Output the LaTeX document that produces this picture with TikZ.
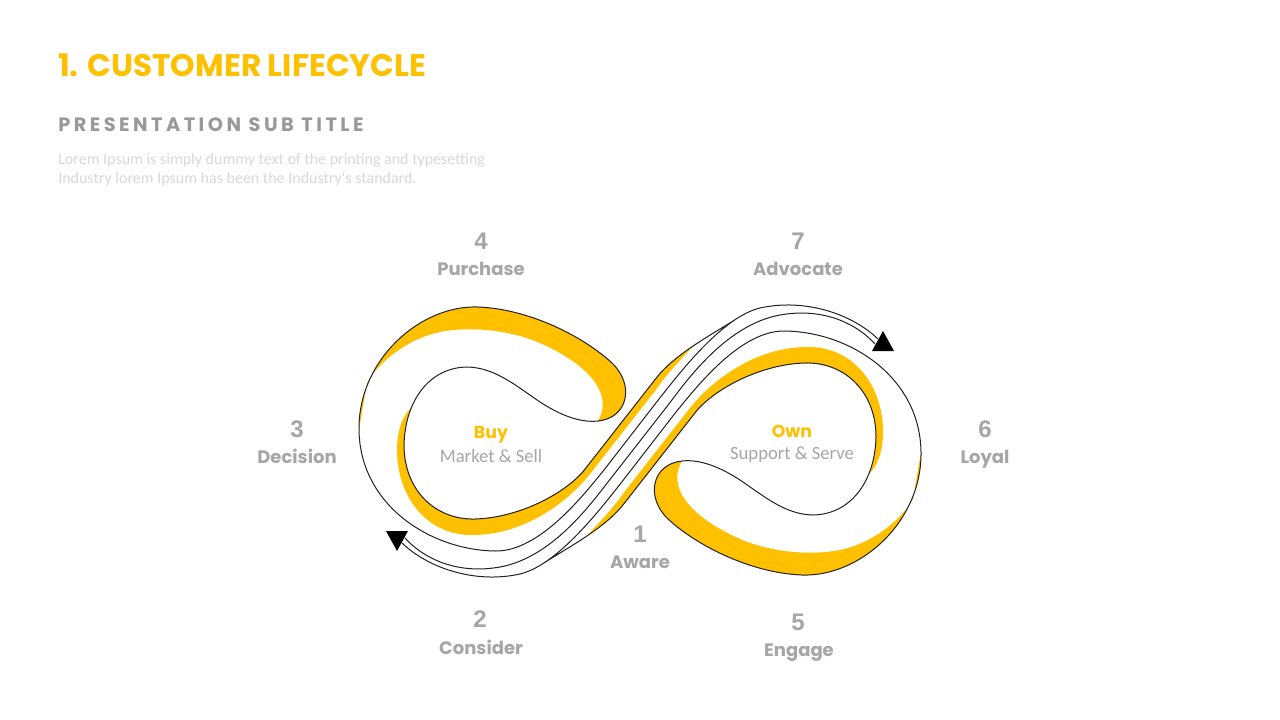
\documentclass[tikz,border=0pt]{standalone}
\usepackage{fontspec}
\setmainfont{Liberation Sans}
\newfontfamily\pop{Poppins}
\newfontfamily\popsp[LetterSpace=18]{Poppins}
\newfontfamily\carl{Carlito}
\newfontfamily\numf{Liberation Sans}
\definecolor{ylw}{HTML}{FFC000}
\definecolor{lbl}{HTML}{A6A6A6}
\definecolor{subg}{HTML}{999999}
\definecolor{lorem}{HTML}{D9D9D9}
\definecolor{ink}{HTML}{222222}
\tikzset{
  inkline/.style={draw=ink, line width=0.75pt, line join=round, line cap=round},
  numlbl/.style={text=lbl, font=\numf\bfseries\fontsize{18}{20}\selectfont, anchor=base, inner sep=0pt},
  wordlbl/.style={text=lbl, font=\pop\bfseries\fontsize{13.5}{16}\selectfont, anchor=base, inner sep=0pt},
  hublbl/.style={text=ylw, font=\pop\bfseries\fontsize{13}{15}\selectfont, anchor=base, inner sep=0pt},
  subhub/.style={text=lbl, font=\carl\fontsize{14}{16}\selectfont, anchor=base, inner sep=0pt},
  loremtxt/.style={text=lorem, font=\carl\fontsize{12}{14}\selectfont, anchor=base west, inner sep=0pt}
}
\newcommand{\HalfInf}{%
  % outer yellow band on top of the lobe, with rounded tip
  \fill[ylw] (359,430) .. controls (358,360) and (420,305) .. (478,307)
    .. controls (530,309) and (584,337) .. (612,363)
    .. controls (635,385) and (628,418) .. (598,421)
    .. controls (612,398) and (596,368) .. (540,343)
    .. controls (510,330) and (470,326) .. (440,332)
    .. controls (410,338) and (380,360) .. (367,383) -- cycle;
  % inner yellow band along the hole, running into the crossing strip
  \fill[ylw] (411,408) .. controls (406,420) and (404,432) .. (404,445)
    .. controls (404,490) and (435,520) .. (475,519)
    .. controls (515,518) and (560,497) .. (582.5,472.3)
    -- (656.5,377.7) .. controls (665.75,365.85) and (679.5,355.1) .. (694.1,345.3)
    .. controls (682,358) and (665,376) .. (655.8,389.9)
    -- (591.1,472.6) .. controls (570,500) and (525,536) .. (470,535)
    .. controls (425,534) and (397,495) .. (397,450)
    .. controls (397,430) and (403,415) .. (411,408) -- cycle;
  % outer line, tip and hole line
  \draw[inkline] (878,339) .. controls (852,314) and (805,298) .. (760,308)
    .. controls (722,317) and (678,375) .. (659,399)
    -- (604,470) .. controls (585,493) and (540,552) .. (495,551)
    .. controls (430,550) and (360,505) .. (359,430)
    .. controls (358,360) and (420,305) .. (478,307)
    .. controls (530,309) and (584,337) .. (612,363)
    .. controls (635,385) and (628,418) .. (598,421)
    .. controls (580,423) and (560,415) .. (540,402)
    .. controls (515,385) and (495,368) .. (468,367)
    .. controls (430,367) and (405,400) .. (404,445)
    .. controls (404,490) and (435,520) .. (475,519)
    .. controls (515,518) and (560,497) .. (582.5,472.3)
    -- (656.5,377.7) .. controls (675,354) and (711.5,334.8) .. (736.7,318.6);
  % arrow head
  \fill[black] (883,331) -- (872,351) -- (894,351) -- cycle;
}
\begin{document}
\begin{tikzpicture}[x=0.75pt,y=-0.75pt]
\fill[white] (0,0) rectangle (1280,720);
\path[use as bounding box] (0,0) rectangle (1280,720);

% header
\node[anchor=base west, inner sep=0pt, text=ylw, font=\pop\bfseries\fontsize{23.4}{28}\selectfont] (title) at (58,77) {1. CUSTOMER LIFECYCLE};
\node[anchor=base west, inner sep=0pt, text=subg, font=\popsp\bfseries\fontsize{14.5}{16}\selectfont] (subtitle) at (58,132) {PRESENTATION SUB TITLE};
\node[loremtxt] (lorem1) at (58,165) {Lorem Ipsum is simply dummy text of the printing and typesetting};
\node[loremtxt] (lorem2) at (58,184) {Industry lorem Ipsum has been the Industry's standard.};

% infinity
\HalfInf
\begin{scope}[rotate around={180:(640,441)}]
  \HalfInf
\end{scope}
\draw[inkline] (405,538) .. controls (422,557) and (455,575) .. (500,567)
  .. controls (555,557) and (595,498) .. (612.3,476.5)
  -- (667.7,405.5) .. controls (685,383) and (725,325) .. (780,315)
  .. controls (825,307) and (858,325) .. (875,344);

% hub labels
\node[hublbl] (buy) at (491,438) {Buy};
\node[subhub] (buysub) at (491,462) {Market \& Sell};
\node[hublbl] (own) at (792,437) {Own};
\node[subhub] (ownsub) at (792,459) {Support \& Serve};

% stage labels
\node[numlbl] (n1) at (640,542) {1};
\node[wordlbl] (w1) at (640,568) {Aware};
\node[numlbl] (n2) at (480,627) {2};
\node[wordlbl] (w2) at (481,654) {Consider};
\node[numlbl] (n3) at (297,437) {3};
\node[wordlbl] (w3) at (297,463) {Decision};
\node[numlbl] (n4) at (481,249) {4};
\node[wordlbl] (w4) at (481,275) {Purchase};
\node[numlbl] (n5) at (798,630) {5};
\node[wordlbl] (w5) at (799,656) {Engage};
\node[numlbl] (n6) at (985,437) {6};
\node[wordlbl] (w6) at (985,463) {Loyal};
\node[numlbl] (n7) at (798,249) {7};
\node[wordlbl] (w7) at (798,275) {Advocate};
\end{tikzpicture}
\end{document}
